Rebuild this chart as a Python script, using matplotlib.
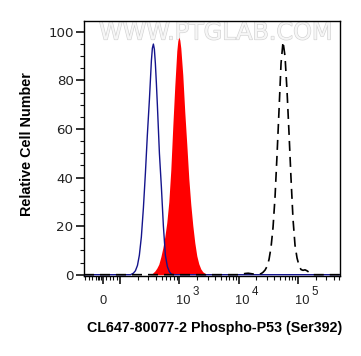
import matplotlib
matplotlib.use("Agg")
import matplotlib.pyplot as plt
import matplotlib.patheffects as pe
import matplotlib.transforms as mtransforms
import numpy as np

plt.rcParams['font.family'] = ['Liberation Sans', 'DejaVu Sans']
plt.rcParams['mathtext.default'] = 'regular'

# ---- data (fluorescence intensity vs relative cell number) ----
blue_x = [-106, 150, 167, 181, 196, 211, 228, 247, 267, 288, 312, 337, 350, 364,
          378, 393, 409, 425, 460, 497, 537, 580, 627, 678, 732, 800, 513000]
blue_y = [0, 0, 0.6, 1.6, 3.8, 8.0, 15.5, 27.5, 41.9, 57.6, 72.2, 88.2, 93.3, 95,
          92.9, 87.1, 78.8, 69.9, 50, 36, 20, 8, 3.3, 1.2, 0.2, 0, 0]

red_x = [330, 356, 385, 416, 449, 486, 525, 567, 613, 663, 716, 774, 836, 904,
         940, 977, 1016, 1056, 1141, 1233, 1333, 1441, 1557, 1683, 1819, 1966,
         2124, 2296, 2482, 2682, 2900]
red_y = [0, 0.7, 1.5, 2.7, 4.3, 7.3, 11.0, 15.6, 21.5, 30.0, 43.1, 61.2, 77.7,
         92.2, 96.3, 97.8, 96.7, 93.4, 82.3, 67.0, 53.7, 39.7, 29.0, 20.3, 13.2,
         7.8, 4.5, 2.4, 1.2, 0.6, 0]

black_x = [-106, 10000, 13000, 14500, 17500, 21000, 23870, 25800, 27880, 30130,
           32560, 35190, 38030, 41100, 44420, 48010, 51890, 56080, 60610, 65500,
           70800, 76520, 82700, 89380, 96590, 104400, 112800, 121900, 131800,
           142400, 153900, 166400, 179800, 513000]
black_y = [0, 0, 0.5, 0.6, 0.3, 0.3, 0.4, 1.0, 1.9, 3.4, 6.3, 11.3, 19.5, 32.0,
           49.3, 67.9, 87.0, 96, 89.9, 75.7, 58.2, 39.5, 22.8, 12.1, 6.9, 3.8,
           2.1, 1.8, 2.0, 1.6, 1.0, 0.4, 0, 0]

x_major = [0, 100, 1000, 10000, 100000]
x_label_base = ['0', '', '10', '10', '10']
x_label_exp = ['', '', '3', '4', '5']
y_major = [0, 20, 40, 60, 80, 100]

W, H = 361, 356
fig = plt.figure(figsize=(W / 100, H / 100), dpi=100)
ax = fig.add_axes([84 / W, 80 / H, 256 / W, 255 / H])

ax.set_xscale('symlog', linthresh=100, linscale=0.263, base=10)

ax.fill_between(red_x, red_y, 0, color='#ff0000', lw=0, zorder=2)
ax.plot(blue_x, blue_y, color='#14148c', lw=1.0, zorder=3)
ax.plot(black_x, black_y, color='black', lw=1.2, linestyle=(0, (6, 3.6)), zorder=4)

ax.set_xlim(-106, 513000)
ax.set_ylim(-0.54, 104.5)

ax.set_xticks(x_major)
ax.set_xticklabels([''] * len(x_major))
minor = [-100, -80, -60, -40, -30, -20, -10, 20, 40, 60, 80]
for dec in [100, 1000, 10000]:
    minor += [dec * k for k in range(2, 10)]
minor += [200000, 300000, 400000, 500000]
ax.set_xticks(minor, minor=True)

ax.set_yticks(y_major)
ax.set_yticks(np.arange(0, 105, 5), minor=True)

ax.tick_params(axis='both', which='major', direction='out', length=6, width=1.2,
               labelsize=9.6, colors='#111111', labelcolor='#222222')
ax.tick_params(axis='both', which='minor', direction='out', length=3, width=0.8,
               colors='#111111')
ax.tick_params(axis='y', which='major', pad=1.5)
for lab in ax.get_yticklabels():
    lab.set_family(['DejaVu Sans'])
for s in ax.spines.values():
    s.set_linewidth(1.0)

# x tick labels: "10" with a large raised exponent, as in the reference
blend = mtransforms.blended_transform_factory(ax.transData, fig.transFigure)
for xv, base, ex in zip(x_major, x_label_base, x_label_exp):
    if not base:
        continue
    if ex == '':
        ax.text(xv, 1 - 295 / H, base, transform=blend, ha='center', va='top',
                fontsize=9.3, color='#222222', clip_on=False)
    else:
        t1 = mtransforms.offset_copy(blend, fig=fig, x=-3.3, y=0, units='dots')
        ax.text(xv, 1 - 295 / H, base, transform=t1, ha='left', va='top',
                fontsize=9.3, color='#222222', clip_on=False)
        t2 = mtransforms.offset_copy(blend, fig=fig, x=13.5, y=0, units='dots')
        ax.text(xv, 1 - 286 / H, ex, transform=t2, ha='left', va='top',
                fontsize=8.3, color='#222222', clip_on=False)

ax.text(0.516, 0.955, 'WWW.PTGLAB.COM', transform=ax.transAxes, ha='center',
        va='center', fontsize=17.2, color='#f6f6f6', zorder=1,
        family=['DejaVu Sans'],
        path_effects=[pe.withStroke(linewidth=0.9, foreground='#d2d2d2')])

fig.text(27 / W, 1 - 144 / H, 'Relative Cell Number', rotation=90,
         ha='center', va='center', fontsize=10.4, fontweight='bold')
fig.text(214.5 / W, 1 - 328 / H, 'CL647-80077-2 Phospho-P53 (Ser392)',
         ha='center', va='center', fontsize=10.3, fontweight='bold')

fig.savefig('out.png', dpi=100)
